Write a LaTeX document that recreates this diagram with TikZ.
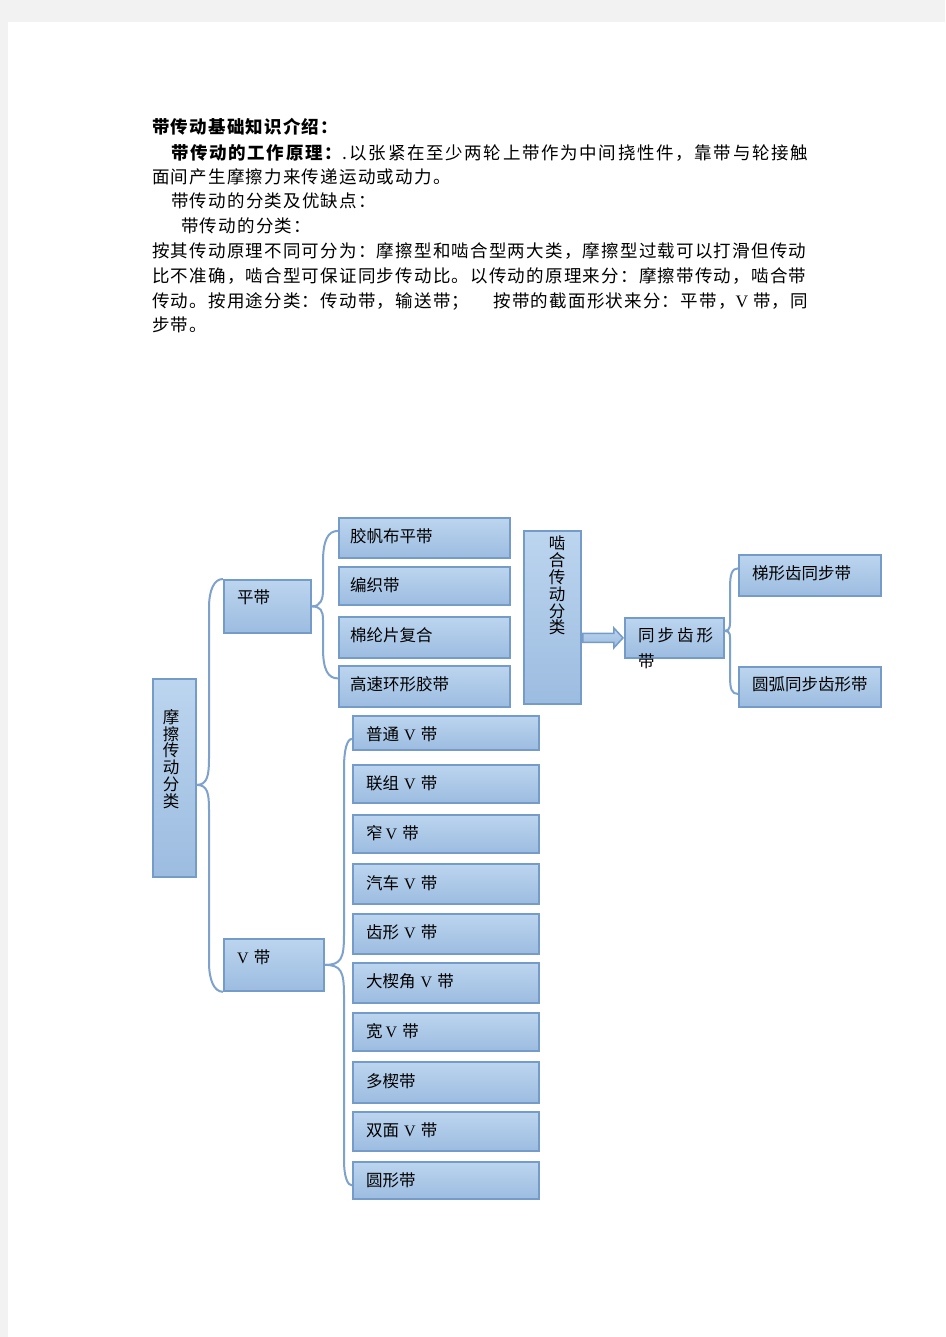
\documentclass[tikz,border=0pt]{standalone}
\usepackage{fontspec}
\setmainfont{Noto Sans CJK SC}
\newfontfamily\cjk{Noto Sans CJK SC}
\newfontfamily\cjkls[LetterSpace=7]{Noto Sans CJK SC}
\newfontfamily\cjklw[LetterSpace=9.5]{Noto Sans CJK SC}
\newfontfamily\vfont{Liberation Serif}
\usetikzlibrary{calc}
\definecolor{pagegray}{HTML}{F2F2F2}
\definecolor{btop}{HTML}{BCD5EF}
\definecolor{bbot}{HTML}{9CBCE0}
\definecolor{bbord}{HTML}{759CC8}
\definecolor{conncol}{HTML}{7EA2CC}
\tikzset{
  box/.style={draw=bbord, line width=1.8pt, top color=btop, bottom color=bbot, anchor=north west, inner sep=0pt},
  lbl/.style={anchor=west, inner sep=0pt, font=\cjk\fontsize{16.5}{18}\selectfont, text=black},
  vlbl/.style={anchor=north, inner sep=0pt, align=center, font=\cjk\fontsize{16.5}{16.8}\selectfont, text=black},
  para/.style={anchor=west, inner sep=0pt, font=\cjkls\fontsize{17.5}{20}\selectfont, text=black},
  conn/.style={draw=conncol, line width=2pt},
  blockarrow/.style={draw=bbord, line width=1.5pt, top color=btop, bottom color=bbot}
}
\newcommand{\vv}{{\vfont\fontsize{16}{18}\selectfont V}}
\begin{document}
\begin{tikzpicture}[x=1pt,y=-1pt]
\useasboundingbox (0,0) rectangle (945,1337);
\fill[pagegray] (0,0) rectangle (945,1337);
\fill[white] (8,22) rectangle (945,1337);

% paragraph
\node[para] (l1) at (152,127) {\bfseries 带传动基础知识介绍：};
\node[para, font=\cjklw\fontsize{17.5}{20}\selectfont] (l2) at (171,153) {{\bfseries 带传动的工作原理：}.\,以张紧在至少两轮上带作为中间挠性件，靠带与轮接触};
\node[para] (l3) at (152,177) {面间产生摩擦力来传递运动或动力。};
\node[para] (l4) at (171,201) {带传动的分类及优缺点：};
\node[para] (l5) at (181,226) {带传动的分类：};
\node[para] (l6) at (152,251) {按其传动原理不同可分为：摩擦型和啮合型两大类，摩擦型过载可以打滑但传动};
\node[para] (l7) at (152,276) {比不准确，啮合型可保证同步传动比。以传动的原理来分：摩擦带传动，啮合带};
\node[para] (l8) at (152,301) {\makebox[656pt][s]{传动。按用途分类：传动带，输送带；\hspace{6pt plus 1fil}按带的截面形状来分：平带，{\vfont V}\hspace{5pt}带，同}};
\node[para] (l9) at (152,325) {步带。};

% boxes
\node[box, minimum width=43pt, minimum height=198pt] (mc) at (152,678) {};
\node[box, minimum width=87pt, minimum height=53pt] (pd) at (223,579) {};
\node[box, minimum width=100pt, minimum height=52pt] (vd) at (223,938) {};
\node[box, minimum width=171pt, minimum height=40pt] (n1) at (338,517) {};
\node[box, minimum width=171pt, minimum height=38pt] (n2) at (338,566) {};
\node[box, minimum width=171pt, minimum height=41pt] (n3) at (338,616) {};
\node[box, minimum width=171pt, minimum height=41pt] (n4) at (338,665) {};
\node[box, minimum width=57pt, minimum height=173pt] (hc) at (523,530) {};
\node[box, minimum width=99pt, minimum height=40pt] (tb) at (624,617) {};
\node[box, minimum width=142pt, minimum height=41pt] (g1) at (738,554) {};
\node[box, minimum width=142pt, minimum height=40pt] (g2) at (738,666) {};
\node[box, minimum width=186pt, minimum height=34pt] (p1) at (352,715) {};
\node[box, minimum width=186pt, minimum height=38pt] (p2) at (352,764) {};
\node[box, minimum width=186pt, minimum height=38pt] (p3) at (352,814) {};
\node[box, minimum width=186pt, minimum height=40pt] (p4) at (352,863) {};
\node[box, minimum width=186pt, minimum height=40pt] (p5) at (352,913) {};
\node[box, minimum width=186pt, minimum height=40pt] (p6) at (352,962) {};
\node[box, minimum width=186pt, minimum height=38pt] (p7) at (352,1012) {};
\node[box, minimum width=186pt, minimum height=41pt] (p8) at (352,1061) {};
\node[box, minimum width=186pt, minimum height=39pt] (p9) at (352,1111) {};
\node[box, minimum width=186pt, minimum height=37pt] (p10) at (352,1161) {};

% labels
\node[vlbl] (tmc) at (171,709) {摩\\擦\\传\\动\\分\\类};
\node[vlbl] (thc) at (557,536) {啮\\合\\传\\动\\分\\类};
\node[lbl] (tpd) at (237,597) {平带};
\node[lbl] (tvd) at (237,957) {\vv\hspace{5pt}带};
\node[lbl] (tn1) at (350,536) {胶帆布平带};
\node[lbl] (tn2) at (350,585) {编织带};
\node[lbl] (tn3) at (350,635) {棉纶片复合};
\node[lbl] (tn4) at (350,684) {高速环形胶带};
\node[lbl, anchor=north west, align=left, font=\cjk\fontsize{16.5}{26}\selectfont] (ttb) at (638,627) {同\hspace{3pt}步\hspace{3pt}齿\hspace{3pt}形\\带};
\node[lbl] (tg1) at (752,573) {梯形齿同步带};
\node[lbl] (tg2) at (752,684) {圆弧同步齿形带};
\node[lbl] (tp1) at (366,734) {普通\hspace{5pt}\vv\hspace{5pt}带};
\node[lbl] (tp2) at (366,783) {联组\hspace{5pt}\vv\hspace{5pt}带};
\node[lbl] (tp3) at (366,833) {窄\hspace{3pt}\vv\hspace{5pt}带};
\node[lbl] (tp4) at (366,883) {汽车\hspace{5pt}\vv\hspace{5pt}带};
\node[lbl] (tp5) at (366,932) {齿形\hspace{5pt}\vv\hspace{5pt}带};
\node[lbl] (tp6) at (366,981) {大楔角\hspace{5pt}\vv\hspace{5pt}带};
\node[lbl] (tp7) at (366,1031) {宽\hspace{3pt}\vv\hspace{5pt}带};
\node[lbl] (tp8) at (366,1081) {多楔带};
\node[lbl] (tp9) at (366,1130) {双面\hspace{5pt}\vv\hspace{5pt}带};
\node[lbl] (tp10) at (366,1180) {圆形带};

% braces
\draw[conn] ($(mc.east)+(0,7)$) .. controls +(11,0) and +(0,16) .. (209,758) -- (209,608) .. controls +(0,-18) and +(-9,0) .. (pd.north west);
\draw[conn] ($(mc.east)+(0,7)$) .. controls +(11,0) and +(0,-16) .. (209,810) -- (209,962) .. controls +(0,18) and +(-9,0) .. (vd.south west);

\draw[conn] (pd.east) .. controls +(9,0) and +(0,9) .. (323,590) -- (323,562) .. controls +(0,-22) and +(-10,0) .. ($(n1.west)+(0,-7)$);
\draw[conn] (pd.east) .. controls +(9,0) and +(0,-9) .. (323,620) -- (323,648) .. controls +(0,22) and +(-10,0) .. ($(n4.west)+(0,-8)$);

\draw[conn] (vd.east) .. controls +(16,0) and +(0,24) .. (344,935) -- (344,768) .. controls +(0,-18) and +(-5,0) .. ($(p1.west)+(0,6)$);
\draw[conn] (vd.east) .. controls +(16,0) and +(0,-24) .. (344,995) -- (344,1160) .. controls +(0,18) and +(-4,0) .. ($(p10.west)+(0,5)$);

\draw[conn] ($(tb.east)+(0,-7)$) .. controls +(6,0) and +(0,10) .. (730,615) -- (730,588) .. controls +(0,-14) and +(-6,0) .. ($(g1.west)+(0,-7)$);
\draw[conn] ($(tb.east)+(0,-7)$) .. controls +(6,0) and +(0,-10) .. (730,645) -- (730,676) .. controls +(0,14) and +(-6,0) .. ($(g2.west)+(0,7)$);

% block arrow
\coordinate (A) at (hc.east |- tb.west);
\path[blockarrow] ($(A)+(1,-4.5)$) -- ($(A)+(32,-4.5)$) -- ($(A)+(32,-10)$) -- ($(tb.west)+(-1,0)$) -- ($(A)+(32,10)$) -- ($(A)+(32,4.5)$) -- ($(A)+(1,4.5)$) -- cycle;
\end{tikzpicture}
\end{document}
